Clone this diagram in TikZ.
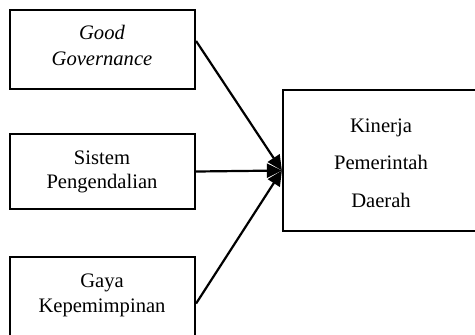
\documentclass[tikz,border=0pt]{standalone}
\usepackage{fontspec}
\setmainfont{Liberation Serif}
\usetikzlibrary{arrows.meta}
\begin{document}
\begin{tikzpicture}[x=0.5pt,y=-0.5pt,
  box/.style={draw=black,line width=1.1pt,rectangle,inner sep=0pt},
  txt/.style={anchor=base,inner sep=0pt,font=\fontsize{10.3}{12}\selectfont},
  arr/.style={line width=1.1pt,-{Triangle[length=7.5pt,width=7pt]}}]
\useasboundingbox (0,0) rectangle (475,334);
\clip (0,0) rectangle (475,334);
\node[box,minimum width=92.5pt,minimum height=39.5pt] (b1) at (102.5,49.5) {};
\node[box,minimum width=92.5pt,minimum height=37.5pt] (b2) at (102.5,171.5) {};
\node[box,minimum width=92.5pt,minimum height=46.5pt] (b3) at (102.5,303.5) {};
\node[box,minimum width=98.5pt,minimum height=70.5pt] (b4) at (381.5,160.5) {};
\node[txt] (t1a) at (102,39) {\itshape Good};
\node[txt] (t1b) at (102,65) {\itshape Governance};
\node[txt] (t2a) at (102,164) {Sistem};
\node[txt] (t2b) at (102,188) {Pengendalian};
\node[txt] (t3a) at (102,287) {Gaya};
\node[txt] (t3b) at (102,312) {Kepemimpinan};
\node[txt] (t4a) at (381,132) {Kinerja};
\node[txt] (t4b) at (381,169) {Pemerintah};
\node[txt] (t4c) at (381,207) {Daerah};
\coordinate (tgt) at ([yshift=-5pt]b4.west);
\draw[arr] ([yshift=4.25pt]b1.east) -- (tgt);
\draw[arr] (b2.east) -- (tgt);
\draw[arr] (b3.east) -- (tgt);
\end{tikzpicture}
\end{document}
